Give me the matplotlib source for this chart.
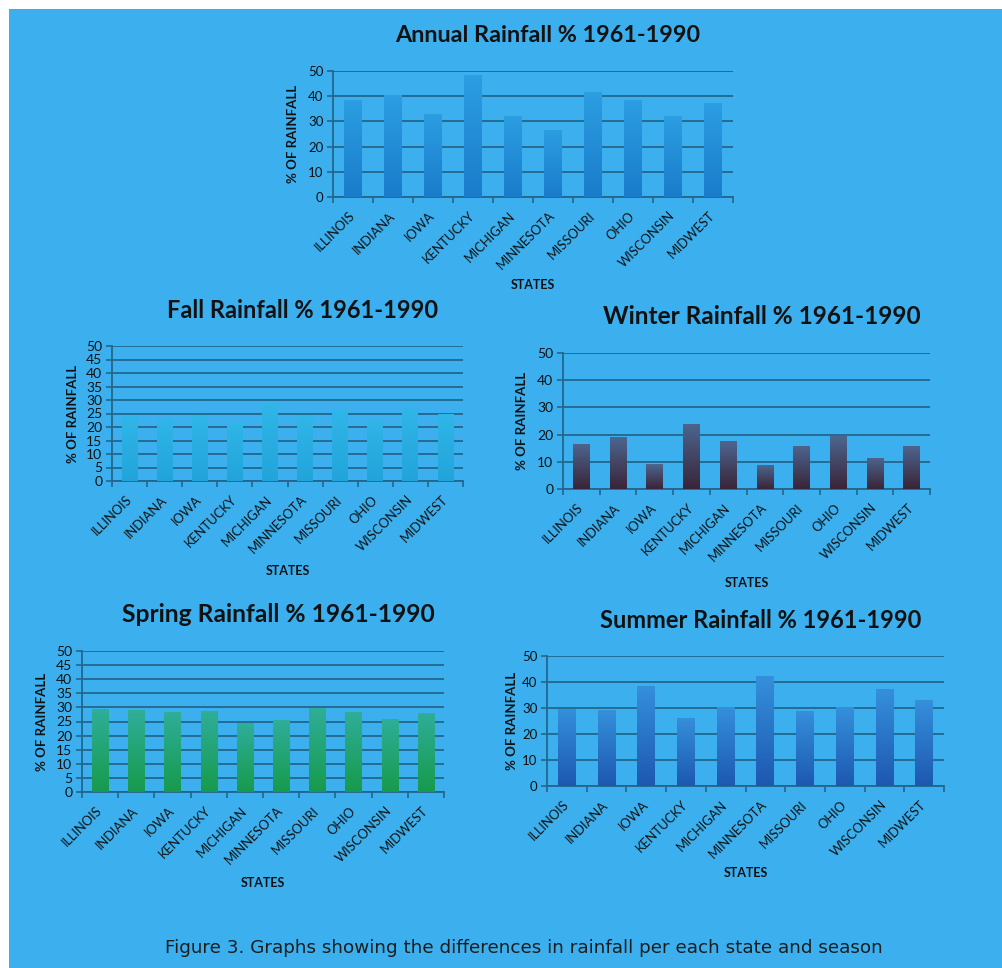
import numpy as np
import matplotlib
matplotlib.use("Agg")
import matplotlib.pyplot as plt
from matplotlib.patches import Rectangle
from matplotlib.colors import LinearSegmentedColormap

# Rainfall share (%) by state, 1961-1990
states = ["ILLINOIS", "INDIANA", "IOWA", "KENTUCKY", "MICHIGAN",
          "MINNESOTA", "MISSOURI", "OHIO", "WISCONSIN", "MIDWEST"]
annual = [38.5, 40.6, 33.0, 48.3, 32.3, 26.6, 41.5, 38.6, 32.0, 37.3]
fall = [24.0, 23.1, 24.3, 21.9, 28.6, 24.3, 26.4, 23.1, 27.2, 24.9]
winter = [16.7, 19.0, 9.1, 23.9, 17.6, 8.8, 15.9, 19.4, 11.4, 15.9]
spring = [29.3, 29.0, 28.3, 28.8, 24.3, 25.5, 29.9, 28.4, 25.8, 28.1]
summer = [29.8, 29.2, 38.3, 26.2, 30.3, 42.2, 28.8, 30.3, 37.3, 32.9]

W, H = 1002, 968
DPI = 100
BG = "#3cb0ef"
GRID = "#22668c"
TXT = "#111111"
FONT = "Lato"

fig = plt.figure(figsize=(W / DPI, H / DPI), dpi=DPI, facecolor=BG)
# white scan margin along the top and left edges
fig.patches.append(Rectangle((0, 1 - 9 / H), 1, 9 / H, transform=fig.transFigure,
                             facecolor="white", edgecolor="none", zorder=-1))
fig.patches.append(Rectangle((0, 0), 9 / W, 1, transform=fig.transFigure,
                             facecolor="white", edgecolor="none", zorder=-1))


def make_axes(left, top, right, bottom):
    return fig.add_axes([left / W, 1 - bottom / H, (right - left) / W, (bottom - top) / H])


def panel(box, values, title, step, top_color, bottom_color, title_size,
          ytick_size, xmax=9.5, ylab_off=-40, states_off=-88):
    ax = make_axes(*box)
    ax.set_facecolor("none")
    x = np.arange(len(states))
    bars = ax.bar(x, values, width=0.45, color="none", edgecolor="none", zorder=3)
    cmap = LinearSegmentedColormap.from_list("bar", [bottom_color, top_color])
    grad = np.linspace(0, 1, 256).reshape(-1, 1)
    for b in bars:
        x0, w, h = b.get_x(), b.get_width(), b.get_height()
        im = ax.imshow(grad, cmap=cmap, origin="lower", aspect="auto",
                       extent=[x0, x0 + w, 0, h], zorder=3, interpolation="bilinear")
        im.set_clip_path(b)
    ax.set_xlim(-0.5, xmax)
    ax.set_ylim(0, 50)
    ax.set_yticks(np.arange(0, 51, step))
    ax.yaxis.grid(True, color=GRID, lw=1.3)
    ax.set_axisbelow(True)
    for s in ("top", "right"):
        ax.spines[s].set_visible(False)
    for s in ("left", "bottom"):
        ax.spines[s].set_color(GRID)
        ax.spines[s].set_linewidth(1.3)
    ax.set_xticks(x)
    ax.set_xticklabels(states, rotation=45, ha="right", va="center",
                       rotation_mode="anchor", fontsize=9.3, family=FONT, color=TXT)
    ax.tick_params(axis="x", which="major", length=0, pad=12)
    ax.set_xticks(np.arange(-0.5, 9.51, 1), minor=True)
    ax.tick_params(axis="x", which="minor", length=4, width=1.2, color=GRID, direction="out")
    ax.tick_params(axis="y", length=4, width=1.2, color=GRID, direction="out", pad=3,
                   labelsize=ytick_size, labelcolor=TXT)
    for lab in ax.get_yticklabels():
        lab.set_family(FONT)
    ax.annotate("% OF RAINFALL", xy=(0, 0.5), xycoords="axes fraction",
                xytext=(ylab_off, 0), textcoords="offset pixels", rotation=90,
                ha="center", va="center", fontsize=9.5, fontweight="bold",
                family=FONT, color=TXT)
    ax.annotate("STATES", xy=(0.5, 0), xycoords="axes fraction",
                xytext=(0, states_off), textcoords="offset pixels",
                ha="center", va="center", fontsize=9, fontweight="bold",
                family=FONT, color=TXT)
    ax.annotate(title, xy=(0.5, 1), xycoords="axes fraction",
                xytext=(15, 36), textcoords="offset pixels",
                ha="center", va="center", fontsize=title_size, fontweight="bold",
                family=FONT, color=TXT)
    return ax


panel((333, 71, 733, 197), annual, "Annual Rainfall % 1961-1990", 10,
      "#2c9ee2", "#1a7ccb", 16.8, 9.5)
panel((112, 346, 463, 481), fall, "Fall Rainfall % 1961-1990", 5,
      "#30b6e8", "#22a4da", 17, 10, ylab_off=-39, states_off=-90)
panel((563, 353, 930, 489), winter, "Winter Rainfall % 1961-1990", 10,
      "#4d6690", "#3a2438", 17.6, 10, ylab_off=-41, states_off=-94)
panel((82, 651, 444, 792), spring, "Spring Rainfall % 1961-1990", 5,
      "#2fae9a", "#179a4c", 17.7, 10, states_off=-91)
panel((547, 656, 944, 786), summer, "Summer Rainfall % 1961-1990", 10,
      "#3590dc", "#1d58b0", 17, 9.5, xmax=9.23, ylab_off=-35, states_off=-87)

fig.text(524 / W, 1 - 948 / H,
         "Figure 3. Graphs showing the differences in rainfall per each state and season",
         ha="center", va="center", fontsize=13.2, family="DejaVu Sans", color="#1c1c1c")

fig.savefig("out.png", dpi=DPI, facecolor=BG)
